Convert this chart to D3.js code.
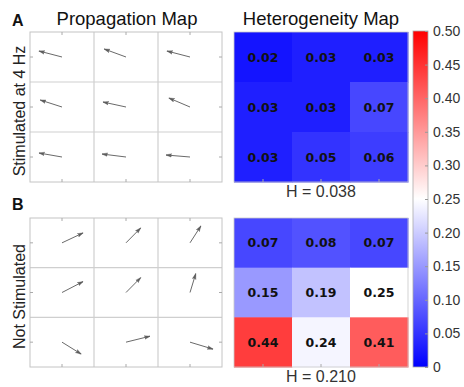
<!DOCTYPE html>
<html><head><meta charset="utf-8">
<script src="https://cdn.jsdelivr.net/npm/d3@7"></script>
<style>body{margin:0;background:#fff}svg{display:block}text{font-family:"Liberation Sans",Arial,sans-serif}</style>
</head><body>
<script>
// ---- data ----
const rowsLabels = ["Stimulated at 4 Hz", "Not Stimulated"];
const panelLetters = ["A", "B"];
// arrow vectors (cell units, y up), row-major 3x3
const arrowsA_u = [-0.36,-0.34,-0.36, -0.34,-0.36,-0.33, -0.36,-0.375,-0.375];
const arrowsA_v = [0.12,0.16,0.12, 0.14,0.10,0.18, 0.08,0.06,0.04];
const arrowsB_u = [0.33,0.23,0.17, 0.33,0.23,0.09, 0.30,0.375,0.36];
const arrowsB_v = [0.20,0.30,0.34, 0.22,0.30,0.38, -0.24,0.12,-0.14];
const heatA = [0.02,0.03,0.03, 0.03,0.03,0.07, 0.03,0.05,0.06];
const heatB = [0.07,0.08,0.07, 0.15,0.19,0.25, 0.44,0.24,0.41];
const hValues = ["0.038", "0.210"];
const cbTicks = [0,0.05,0.10,0.15,0.20,0.25,0.30,0.35,0.40,0.45,0.50];

const W = 464, H = 387;
const svg = d3.select("body").append("svg").attr("width", W).attr("height", H);

const color = d3.scaleLinear().domain([0,0.25,0.5]).range(["#0000ff","#ffffff","#ff0000"]).interpolate(d3.interpolateRgb).clamp(true);

const defs = svg.append("defs");
const mk = defs.append("marker").attr("id","ah").attr("viewBox","0 0 10 10").attr("refX",9.5).attr("refY",5)
  .attr("markerWidth",6).attr("markerHeight",6).attr("markerUnits","userSpaceOnUse").attr("orient","auto");
mk.append("path").attr("d","M0,2 L10,5 L0,8 L2,5 Z").attr("fill","#5e5e5e").attr("stroke","#5e5e5e").attr("stroke-width",0.6);

const panels = [
  {top:32, bottom:182, u:arrowsA_u, v:arrowsA_v, heat:heatA, h:hValues[0], label:rowsLabels[0], letter:panelLetters[0], letterY:26},
  {top:218, bottom:367, u:arrowsB_u, v:arrowsB_v, heat:heatB, h:hValues[1], label:rowsLabels[1], letter:panelLetters[1], letterY:210}
];

const pL = 30, pR = 222, hL = 234, hR = 408;
const idx = d3.range(9);

panels.forEach(p => {
  const x = d3.scaleLinear().domain([0,3]).range([pL,pR]);
  const y = d3.scaleLinear().domain([0,3]).range([p.top,p.bottom]);
  const cw = (pR-pL)/3, ch = (p.bottom-p.top)/3;
  const ux = d3.scaleLinear().domain([0,1]).range([0,cw]);
  const vy = d3.scaleLinear().domain([0,1]).range([0,-ch]);
  const g = svg.append("g");
  [1,2].forEach(k => {
    g.append("line").attr("x1",x(k)).attr("x2",x(k)).attr("y1",p.top).attr("y2",p.bottom).attr("stroke","#cfcfcf").attr("stroke-width",1.2);
    g.append("line").attr("y1",y(k)).attr("y2",y(k)).attr("x1",pL).attr("x2",pR).attr("stroke","#cfcfcf").attr("stroke-width",1.2);
  });
  g.append("rect").attr("x",pL).attr("y",p.top).attr("width",pR-pL).attr("height",p.bottom-p.top).attr("fill","none").attr("stroke","#c4c4c4");
  [0.5,1.5,2.5].forEach(k => {
    g.append("line").attr("x1",x(k)).attr("x2",x(k)).attr("y1",p.bottom).attr("y2",p.bottom-3).attr("stroke","#aaa");
    g.append("line").attr("x1",x(k)).attr("x2",x(k)).attr("y1",p.top).attr("y2",p.top+3).attr("stroke","#aaa");
    g.append("line").attr("y1",y(k)).attr("y2",y(k)).attr("x1",pL).attr("x2",pL+3).attr("stroke","#aaa");
    g.append("line").attr("y1",y(k)).attr("y2",y(k)).attr("x1",pR).attr("x2",pR-3).attr("stroke","#aaa");
  });
  g.selectAll("line.arrow").data(idx).join("line").attr("class","arrow")
    .attr("x1", i => x(i%3+0.5)).attr("y1", i => y(Math.floor(i/3)+0.5))
    .attr("x2", i => x(i%3+0.5)+ux(p.u[i])).attr("y2", i => y(Math.floor(i/3)+0.5)+vy(p.v[i]))
    .attr("stroke","#6a6a6a").attr("stroke-width",1).attr("marker-end","url(#ah)");

  const hx = d3.scaleLinear().domain([0,3]).range([hL,hR]);
  const hg = svg.append("g");
  hg.selectAll("rect").data(idx).join("rect")
    .attr("x", i => hx(i%3)).attr("y", i => y(Math.floor(i/3)))
    .attr("width", hx(1)-hx(0)+0.5).attr("height", ch+0.5)
    .attr("fill", i => color(p.heat[i]));
  hg.append("rect").attr("x",hL).attr("y",p.top).attr("width",hR-hL).attr("height",p.bottom-p.top).attr("fill","none").attr("stroke","#c8c8c8").attr("stroke-width",0.8);
  [0.5,1.5,2.5].forEach(k => {
    hg.append("line").attr("x1",hx(k)).attr("x2",hx(k)).attr("y1",p.bottom).attr("y2",p.bottom-3).attr("stroke","#aaa");
  });
  hg.selectAll("text").data(idx).join("text")
    .attr("x", i => hx(i%3+0.5)).attr("y", i => y(Math.floor(i/3)+0.5)+4.6)
    .attr("text-anchor","middle").style("font-family","'DejaVu Sans',sans-serif").style("font-weight","bold").style("font-size","12.5px")
    .attr("fill","#111").text(i => p.heat[i].toFixed(2));
  svg.append("text").attr("x",(hL+hR)/2).attr("y",p.bottom+15).attr("text-anchor","middle").style("font-size","16px").attr("fill","#333").text("H = " + p.h);

  svg.append("text").attr("transform",`translate(25,${(p.top+p.bottom)/2+4}) rotate(-90)`).attr("text-anchor","middle").style("font-size","16px").attr("fill","#222").text(p.label);
  svg.append("text").attr("x",12).attr("y",p.letterY).style("font-size","16px").style("font-weight","bold").attr("fill","#111").text(p.letter);
});

svg.append("text").attr("x",(pL+pR)/2+1).attr("y",25).attr("text-anchor","middle").style("font-size","18.5px").attr("fill","#111").text("Propagation Map");
svg.append("text").attr("x",(hL+hR)/2).attr("y",25).attr("text-anchor","middle").style("font-size","18.5px").attr("fill","#111").text("Heterogeneity Map");

const cbx = 413, cbw = 15, cbTop = 31, cbBot = 367;
const cy = d3.scaleLinear().domain([0,0.5]).range([cbBot,cbTop]);
const grad = defs.append("linearGradient").attr("id","cbg").attr("x1",0).attr("x2",0).attr("y1",1).attr("y2",0);
[0,0.25,0.5].forEach(v => grad.append("stop").attr("offset", v/0.5).attr("stop-color", color(v)));
svg.append("rect").attr("x",cbx).attr("y",cbTop).attr("width",cbw).attr("height",cbBot-cbTop).attr("fill","url(#cbg)").attr("stroke","#aaa").attr("stroke-width",0.8);
const cbAxis = d3.axisRight(cy).tickValues(cbTicks).tickSize(0).tickPadding(5).tickFormat(d => d===0 ? "0" : d3.format(".2f")(d));
const ag = svg.append("g").attr("transform",`translate(${cbx+cbw},0)`).call(cbAxis);
ag.select(".domain").remove();
ag.selectAll("text").style("font-family","'Liberation Sans',Arial,sans-serif").style("font-size","14px").attr("fill","#333");
ag.selectAll(".tick").append("line").attr("x1",-3).attr("x2",0).attr("stroke","#999");
</script>
</body></html>
